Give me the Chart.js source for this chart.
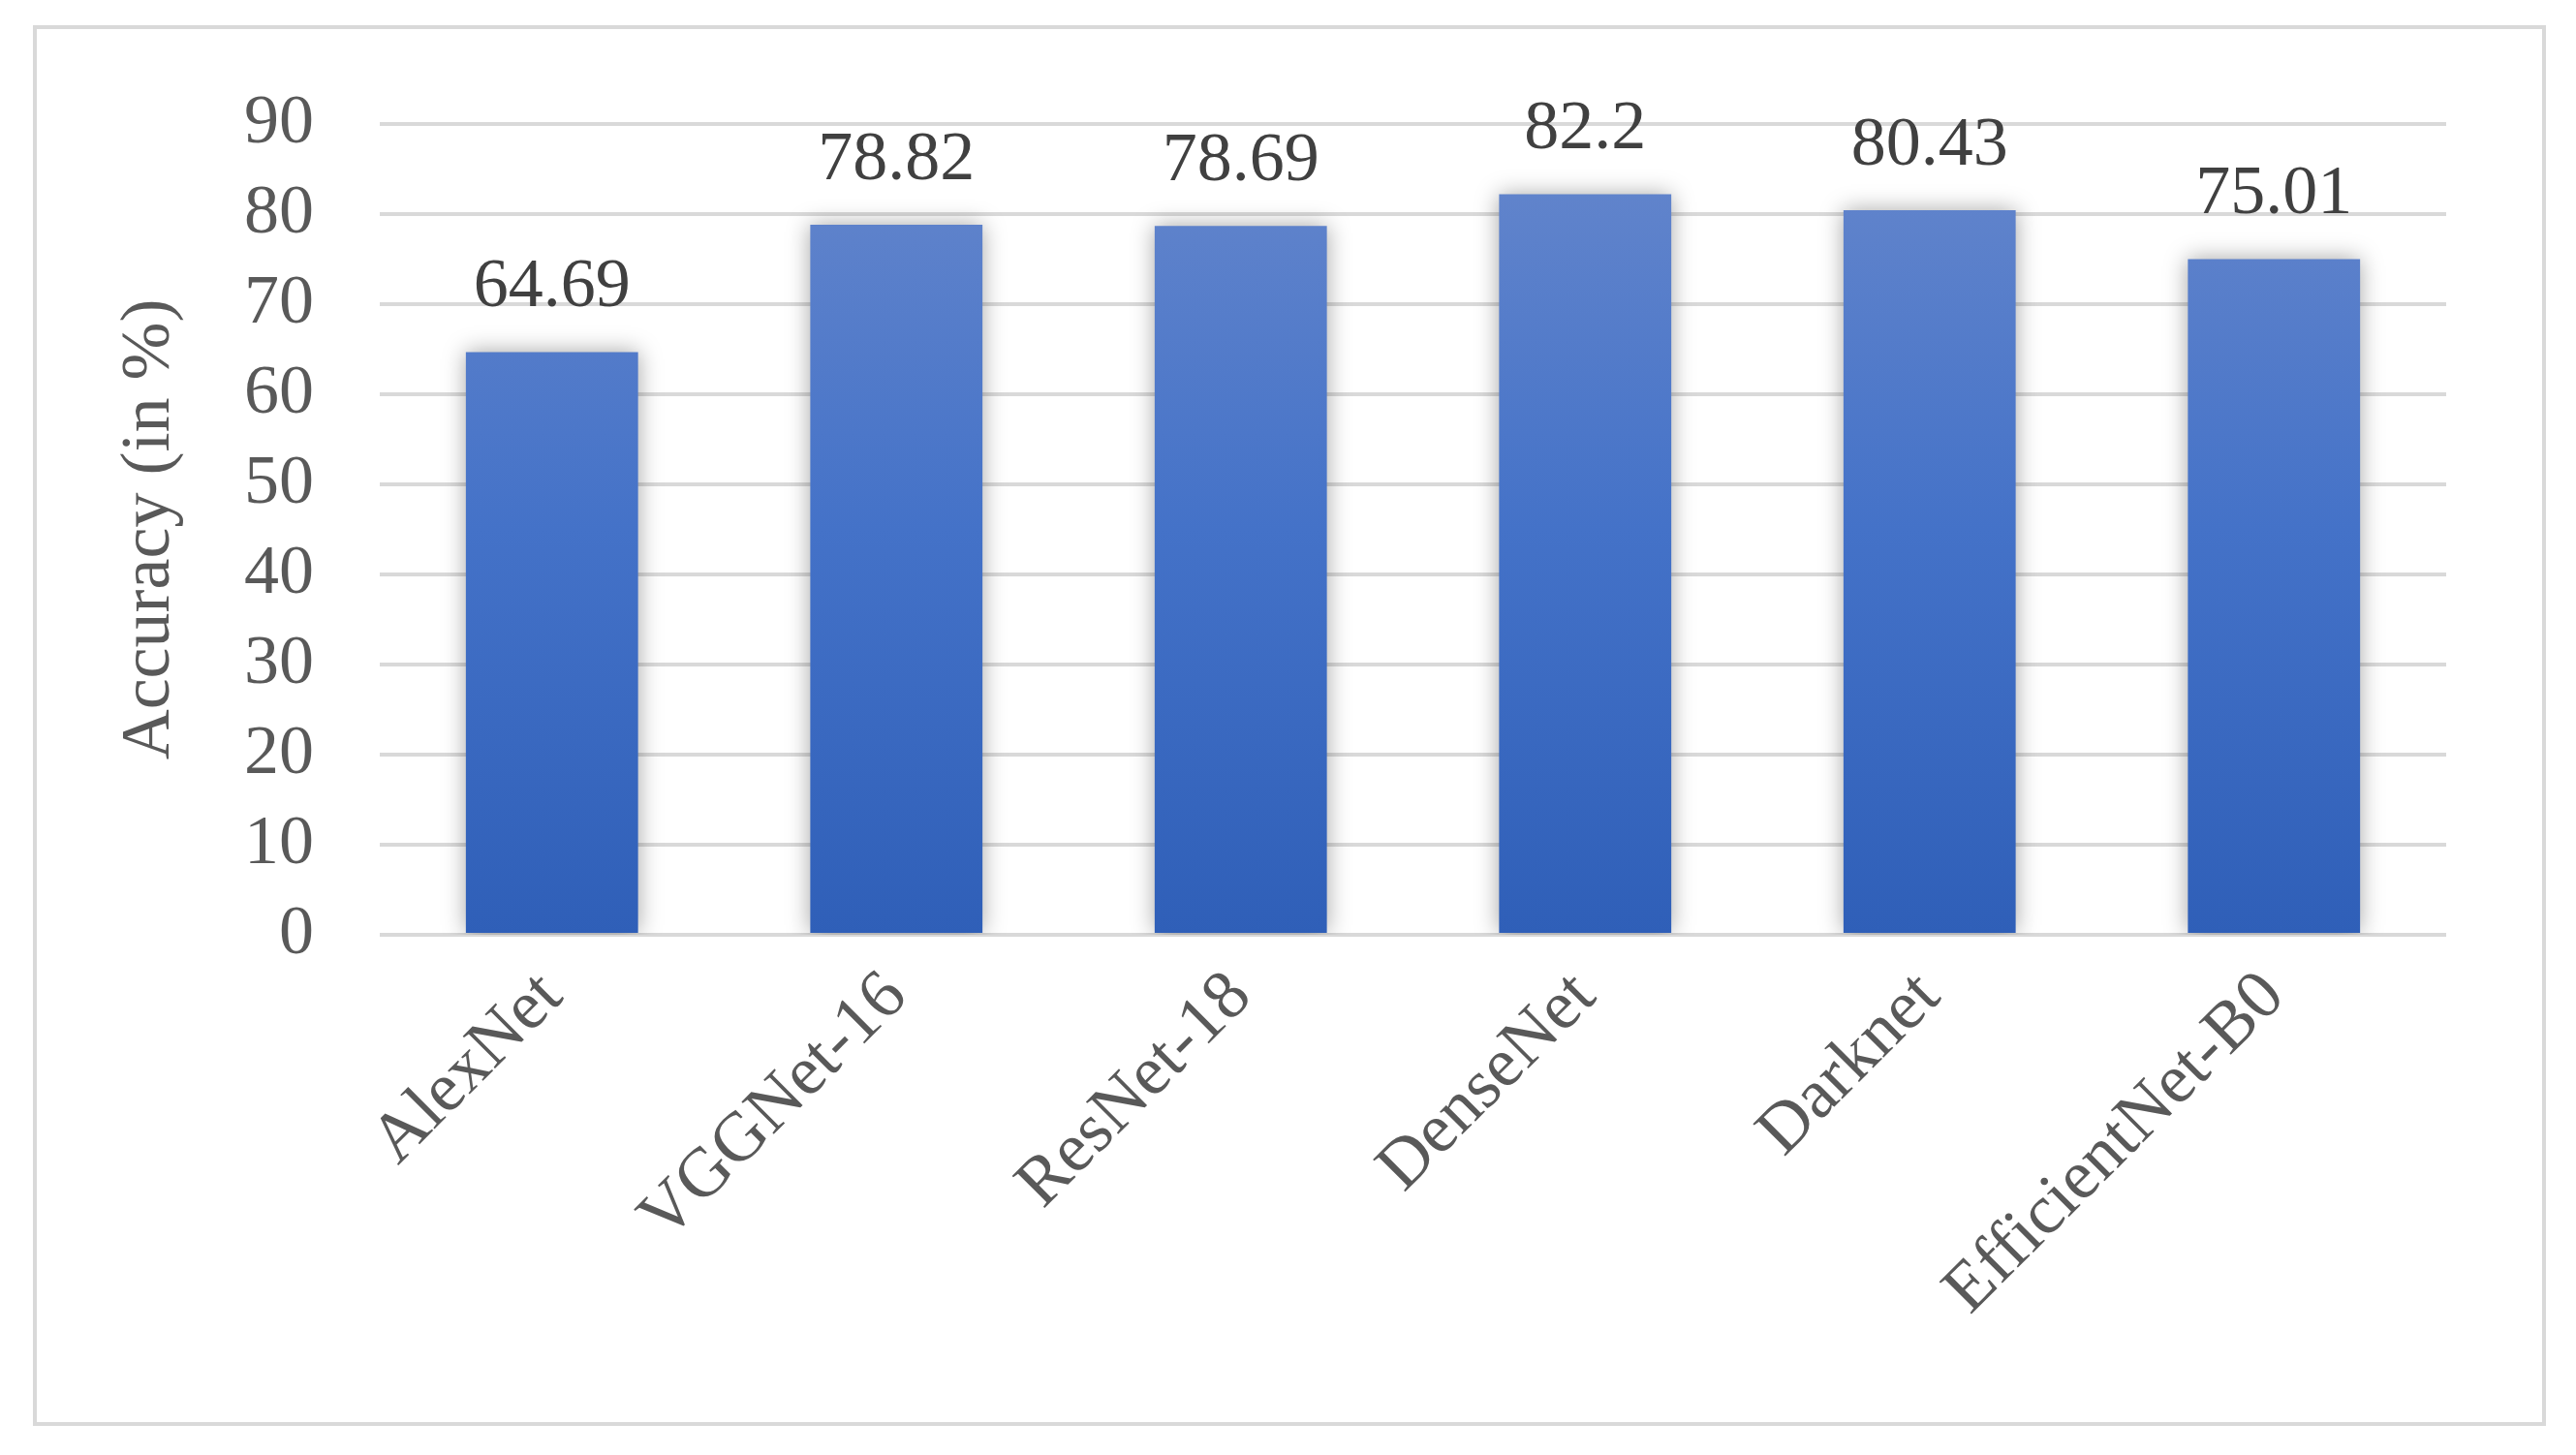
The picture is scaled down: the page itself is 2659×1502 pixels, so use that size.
<!DOCTYPE html>
<html>
<head>
<meta charset="utf-8">
<script src="https://cdn.jsdelivr.net/npm/chart.js@4"></script>
<style>
  html, body { margin: 0; padding: 0; background: #fff; }
  #wrap { position: relative; width: 2659px; height: 1502px; }
  #frame { position: absolute; left: 34px; top: 26px; width: 2586px; height: 1438px; border: 4px solid #d9d9d9; }
</style>
</head>
<body>
<div id="wrap">
  <div id="frame"></div>
  <canvas id="chart" width="2659" height="1502"></canvas>
</div>
<script>
const categories = ["AlexNet", "VGGNet-16", "ResNet-18", "DenseNet", "Darknet", "EfficientNet-B0"];
const accuracy = [64.69, 78.82, 78.69, 82.2, 80.43, 75.01];
const valueLabels = ["64.69", "78.82", "78.69", "82.2", "80.43", "75.01"];
const yTicks = [0, 10, 20, 30, 40, 50, 60, 70, 80, 90];

const FONT = "'Liberation Serif', 'Times New Roman', serif";

// label di atas batang
const valueLabelPlugin = {
  id: 'valueLabels',
  afterDatasetsDraw(chart) {
    const ctx = chart.ctx;
    const meta = chart.getDatasetMeta(0);
    ctx.save();
    ctx.fillStyle = '#404040';
    ctx.font = `72px ${FONT}`;
    ctx.textAlign = 'center';
    ctx.textBaseline = 'bottom';
    meta.data.forEach((bar, i) => {
      ctx.fillText(valueLabels[i], bar.x, bar.y - 30);
    });
    ctx.restore();
  }
};

// bayangan lembut di belakang batang
const shadowPlugin = {
  id: 'barShadow',
  beforeDatasetsDraw(chart) {
    const ctx = chart.ctx;
    ctx.save();
    ctx.shadowColor = 'rgba(0,0,0,0.35)';
    ctx.shadowBlur = 22;
    ctx.shadowOffsetX = 0;
    ctx.shadowOffsetY = 0;
  },
  afterDatasetsDraw(chart) {
    chart.ctx.restore();
  }
};

const ctx = document.getElementById('chart').getContext('2d');

new Chart(ctx, {
  type: 'bar',
  data: {
    labels: categories,
    datasets: [{
      data: accuracy,
      backgroundColor: (c) => {
        const area = c.chart.chartArea;
        if (!area) return '#4472c4';
        const g = c.chart.ctx.createLinearGradient(0, area.top, 0, area.bottom);
        g.addColorStop(0, '#6687cc');
        g.addColorStop(0.5, '#4472c8');
        g.addColorStop(1, '#2f5fb8');
        return g;
      },
      categoryPercentage: 1.0,
      barPercentage: 0.5
    }]
  },
  options: {
    responsive: false,
    animation: false,
    layout: { padding: { left: 112, right: 134, top: 128, bottom: 0 } },
    plugins: { legend: { display: false }, tooltip: { enabled: false } },
    scales: {
      x: {
        grid: { display: false },
        border: { display: false },
        ticks: {
          color: '#595959',
          font: { family: FONT, size: 72 },
          minRotation: 45,
          maxRotation: 45,
          padding: 14
        },
        afterFit(scale) { scale.height = 1502 - 965; }
      },
      y: {
        min: 0,
        max: 90,
        afterBuildTicks(scale) { scale.ticks = yTicks.map(v => ({ value: v })); },
        grid: { color: '#d9d9d9', lineWidth: 4, drawTicks: false },
        border: { display: false },
        ticks: {
          color: '#595959',
          font: { family: FONT, size: 72 },
          padding: 68
        },
        title: {
          display: true,
          text: 'Accuracy (in %)',
          color: '#595959',
          font: { family: FONT, size: 72 },
          padding: { top: 0, bottom: 0 }
        },
        afterFit(scale) { scale.width = 392 - 112; }
      }
    }
  },
  plugins: [shadowPlugin, valueLabelPlugin]
});
</script>
</body>
</html>
